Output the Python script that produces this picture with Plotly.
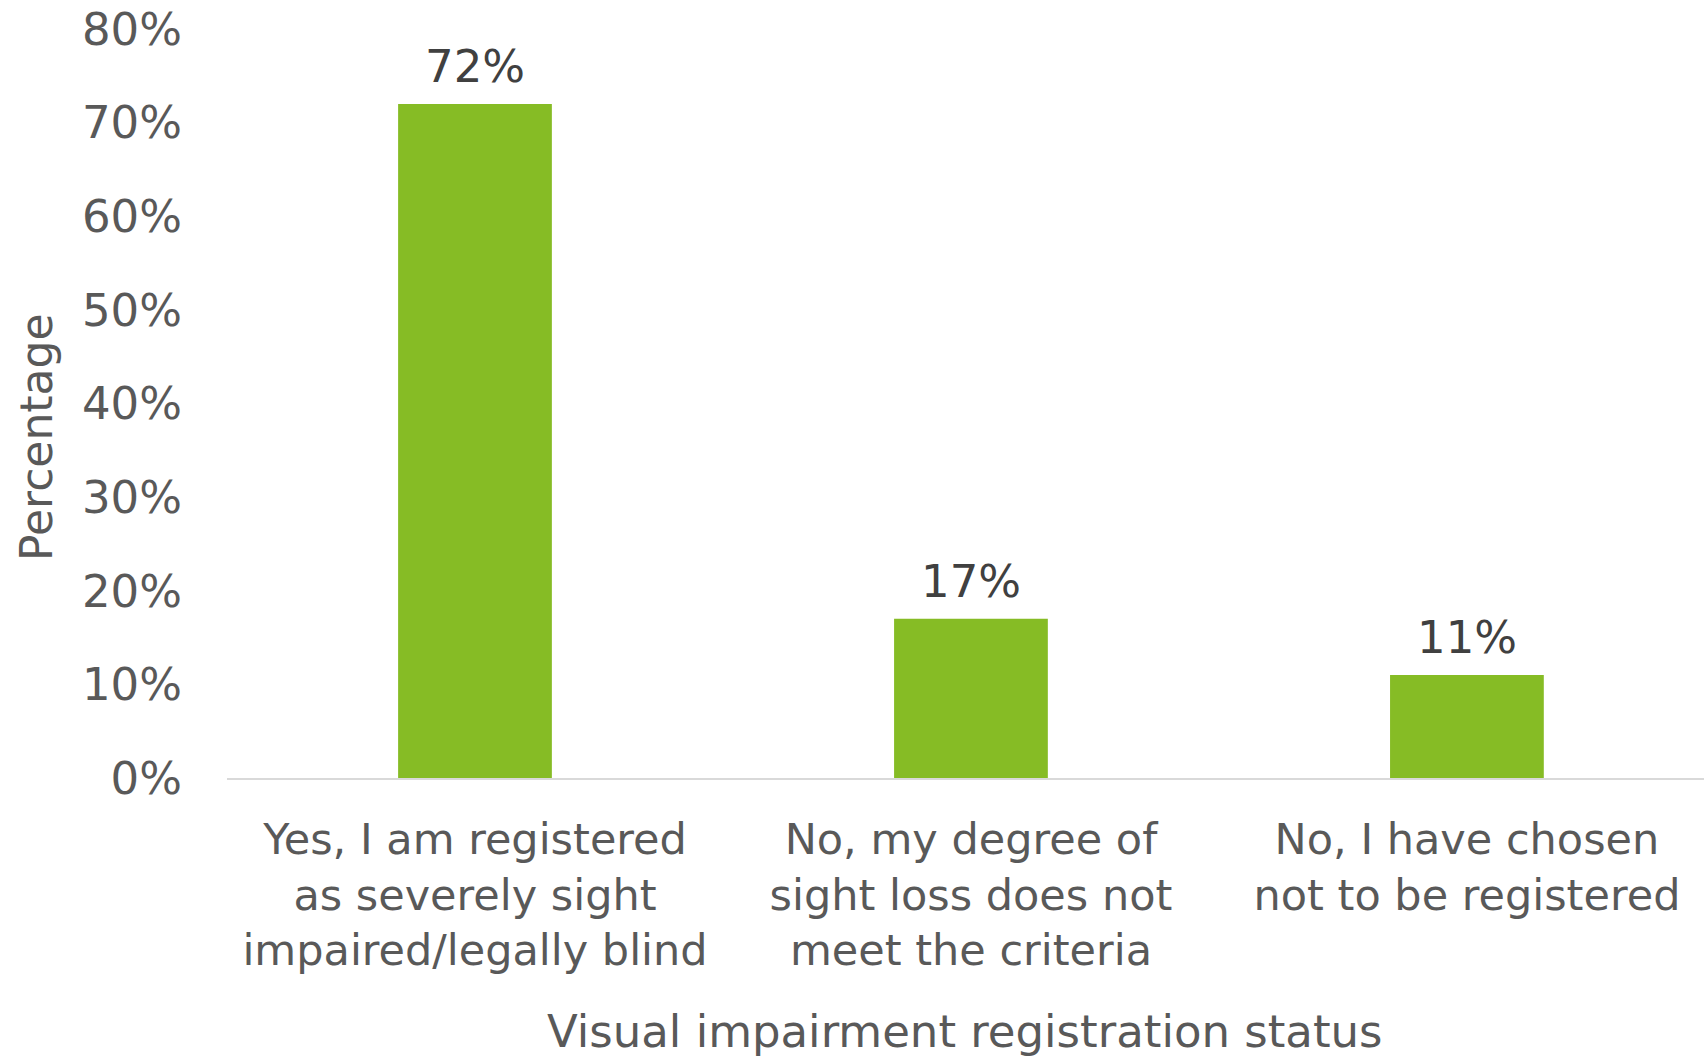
import plotly.graph_objects as go

# Survey responses: registration status of respondents with sight loss
categories = [
    "Yes, I am registered<br>as severely sight<br>impaired/legally blind",
    "No, my degree of<br>sight loss does not<br>meet the criteria",
    "No, I have chosen<br>not to be registered",
]
shares = [0.72, 0.17, 0.11]
y_ticks = [0, 0.1, 0.2, 0.3, 0.4, 0.5, 0.6, 0.7, 0.8]
y_tick_labels = ["0%", "10%", "20%", "30%", "40%", "50%", "60%", "70%", "80%"]

BAR_GREEN = "#86BC25"
LABEL_GREY = "#595959"
VALUE_GREY = "#404040"
FONT = "DejaVu Sans"

W, H = 1704, 1057
ML, MR, MT, MB = 227, 0, 29, 279
PW, PH = W - ML - MR, H - MT - MB

fig = go.Figure()
fig.add_trace(
    go.Bar(
        x=list(range(len(categories))),
        y=shares,
        marker=dict(color=BAR_GREEN, line=dict(width=0)),
        width=0.31,
        hoverinfo="skip",
    )
)

# value labels above each bar
for i, v in enumerate(shares):
    fig.add_annotation(
        x=i, y=v, xref="x", yref="y",
        text=f"{round(v * 100)}%",
        showarrow=False, yanchor="bottom", yshift=9,
        font=dict(family=FONT, size=45, color=VALUE_GREY),
    )

# axis titles, positioned in page pixels
fig.add_annotation(
    x=(36 - ML) / PW, y=(H - 437 - MB) / PH, xref="paper", yref="paper",
    text="Percentage", textangle=-90, showarrow=False,
    xanchor="center", yanchor="middle",
    font=dict(family=FONT, size=44, color=LABEL_GREY),
)
fig.add_annotation(
    x=(965 - ML) / PW, y=(H - 1031 - MB) / PH, xref="paper", yref="paper",
    text="Visual impairment registration status", showarrow=False,
    xanchor="center", yanchor="middle",
    font=dict(family=FONT, size=45, color=LABEL_GREY),
)

fig.update_layout(
    width=W, height=H,
    margin=dict(l=ML, r=MR, t=MT, b=MB),
    paper_bgcolor="white", plot_bgcolor="white",
    showlegend=False,
    font=dict(family=FONT, color=LABEL_GREY),
    xaxis=dict(
        range=[-0.5, 2.478],
        tickmode="array",
        tickvals=list(range(len(categories))),
        ticktext=categories,
        tickfont=dict(family=FONT, size=43, color=LABEL_GREY),
        showline=True, linecolor="#D9D9D9", linewidth=2,
        showgrid=False, zeroline=False, ticks="",
        ticklabelstandoff=22,
    ),
    yaxis=dict(
        range=[0, 0.8],
        tickmode="array",
        tickvals=y_ticks,
        ticktext=y_tick_labels,
        tickfont=dict(family=FONT, size=45, color=LABEL_GREY),
        showline=False, showgrid=False, zeroline=False, ticks="",
        ticklabelstandoff=44,
    ),
)

fig.write_html("out.html")
